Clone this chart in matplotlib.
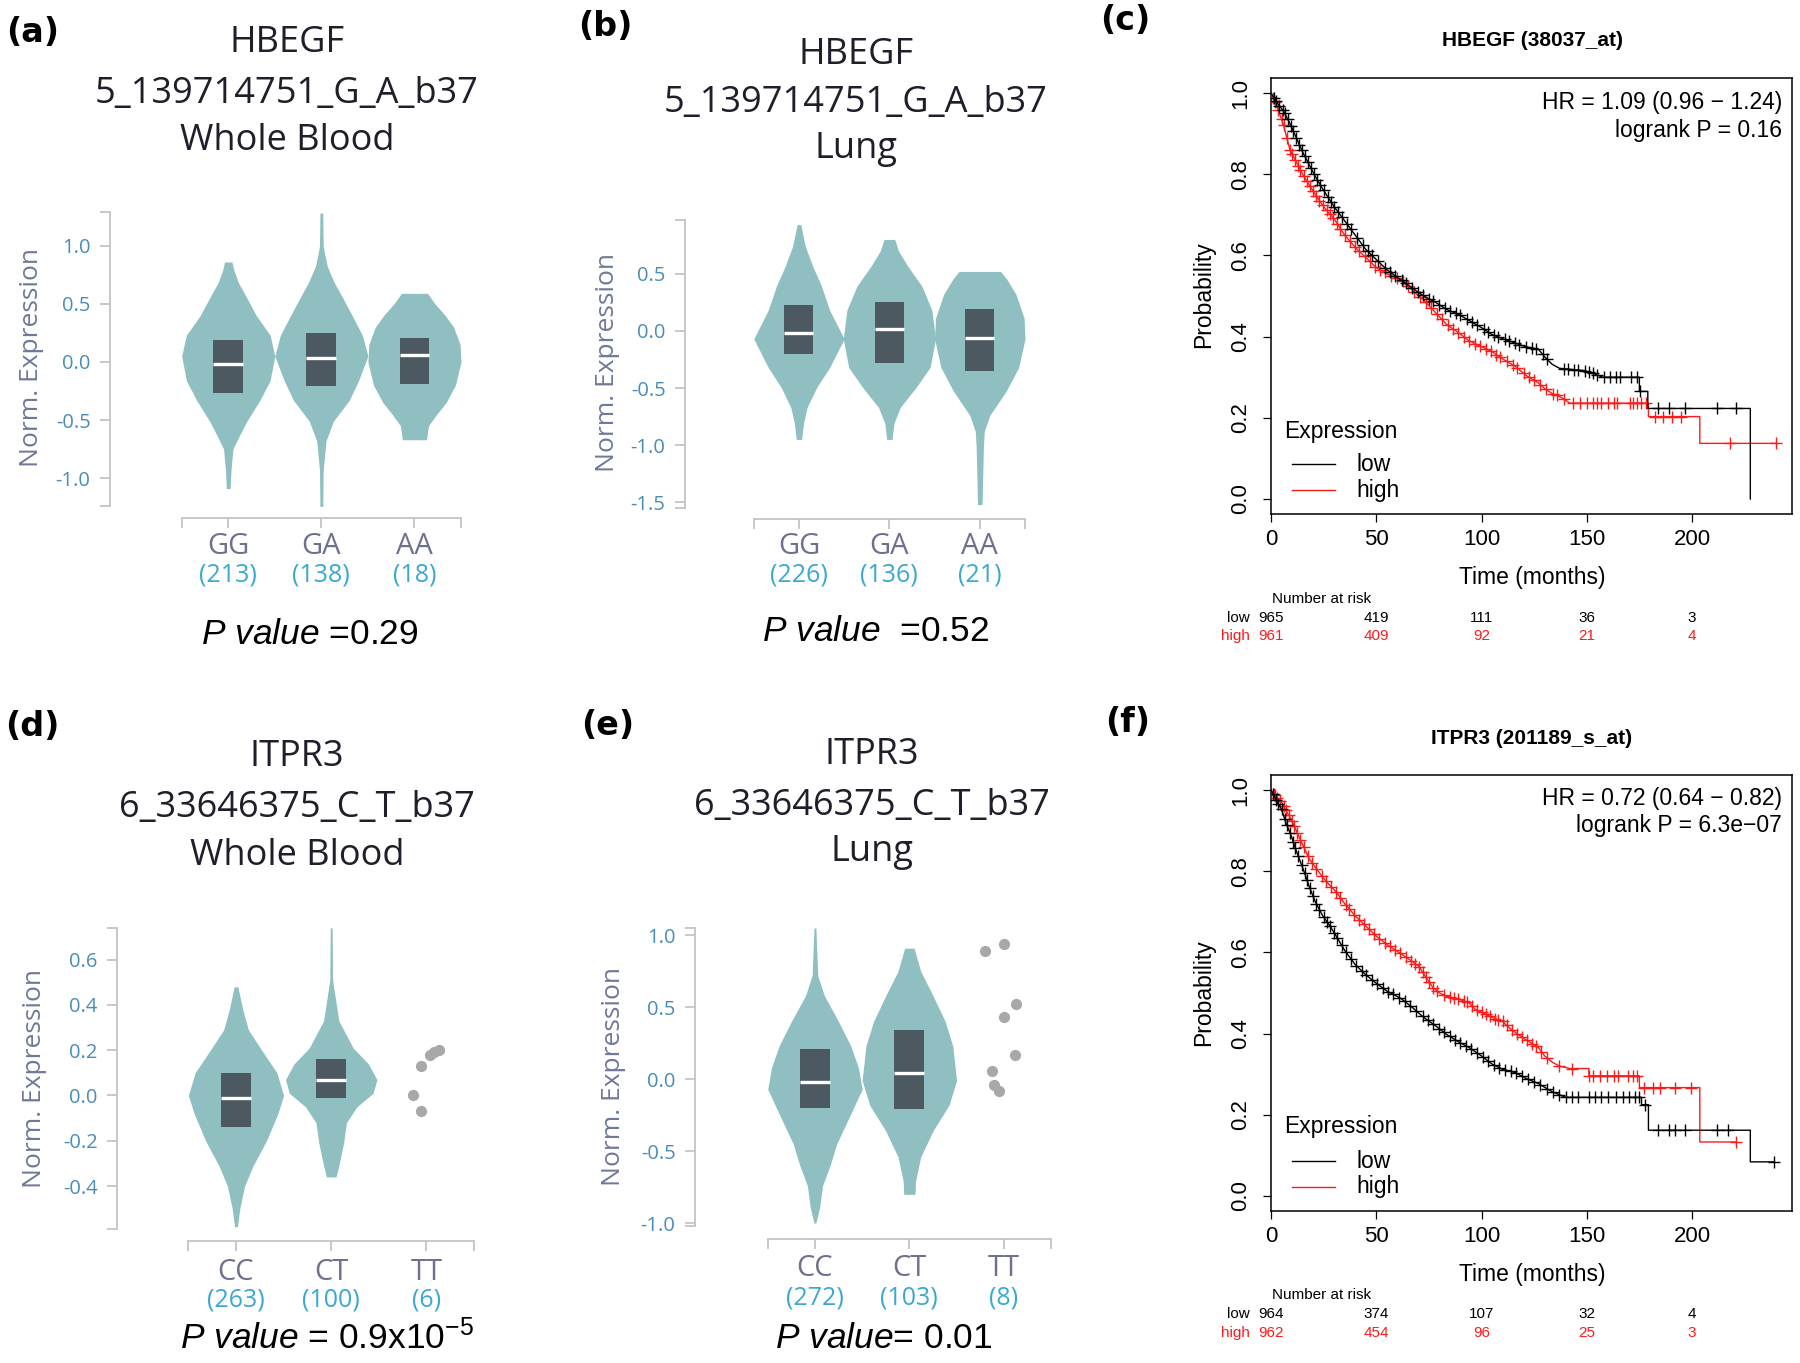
import numpy as np
import matplotlib.pyplot as plt
from matplotlib.patches import Rectangle

W, H = 1800, 1363
plt.rcParams['font.family'] = ['Liberation Sans', 'DejaVu Sans']
plt.rcParams['mathtext.fontset'] = 'custom'
plt.rcParams['mathtext.rm'] = 'Liberation Sans'
plt.rcParams['mathtext.it'] = 'Liberation Sans:italic'
plt.rcParams['axes.unicode_minus'] = False

VIOLIN = '#8fbfc0'
BOX = '#4d5961'
AXGREY = '#c4c4c4'
TICKBLUE = '#4a8db8'
LABELGREY = '#6f7898'
GENOGREY = '#6e7090'
COUNTBLUE = '#3aa8d0'
DOTGREY = '#a8a8a8'
TITLE = '#1f1f2b'
KMRED = '#ff1a1a'
GTEX_FONT = ['Open Sans', 'DejaVu Sans']

# ---------------- data: eQTL violins ----------------
# (a) HBEGF 5_139714751_G_A_b37, Whole Blood
a_geno = ['GG', 'GA', 'AA']
a_counts = ['(213)', '(138)', '(18)']
a_yticks = [-1.0, -0.5, 0.0, 0.5, 1.0]
a_vy = [
    [-1.09, -0.93, -0.75, -0.65, -0.51, -0.33, -0.16, 0.05, 0.23, 0.40, 0.58, 0.68, 0.79, 0.86],
    [-1.25, -0.93, -0.68, -0.51, -0.33, -0.16, 0.05, 0.23, 0.40, 0.58, 0.68, 0.82, 0.93, 1.00, 1.28],
    [-0.67, -0.55, -0.45, -0.35, -0.20, 0.00, 0.15, 0.30, 0.40, 0.50, 0.59],
]
a_vw = [
    [0.02, 0.03, 0.05, 0.11, 0.20, 0.34, 0.45, 0.50, 0.45, 0.30, 0.18, 0.11, 0.06, 0.04],
    [0.015, 0.02, 0.05, 0.13, 0.30, 0.40, 0.50, 0.44, 0.33, 0.21, 0.14, 0.065, 0.035, 0.02, 0.015],
    [0.13, 0.15, 0.24, 0.34, 0.44, 0.50, 0.49, 0.42, 0.33, 0.22, 0.14],
]
a_q1 = [-0.27, -0.21, -0.19]
a_med = [-0.02, 0.03, 0.06]
a_q3 = [0.19, 0.25, 0.21]

# (b) HBEGF 5_139714751_G_A_b37, Lung
b_geno = ['GG', 'GA', 'AA']
b_counts = ['(226)', '(136)', '(21)']
b_yticks = [-1.5, -1.0, -0.5, 0.0, 0.5]
b_vy = [
    [-0.95, -0.81, -0.67, -0.49, -0.32, -0.07, 0.18, 0.39, 0.57, 0.74, 0.93],
    [-0.95, -0.81, -0.67, -0.49, -0.32, -0.07, 0.18, 0.39, 0.57, 0.70, 0.80],
    [-1.52, -1.02, -0.88, -0.74, -0.53, -0.32, -0.07, 0.11, 0.32, 0.45, 0.52],
]
b_vw = [
    [0.03, 0.05, 0.09, 0.20, 0.34, 0.50, 0.34, 0.25, 0.15, 0.07, 0.02],
    [0.03, 0.05, 0.12, 0.30, 0.45, 0.51, 0.47, 0.36, 0.20, 0.10, 0.06],
    [0.025, 0.04, 0.05, 0.11, 0.29, 0.43, 0.50, 0.49, 0.40, 0.30, 0.23],
]
b_q1 = [-0.20, -0.28, -0.35]
b_med = [-0.02, 0.02, -0.06]
b_q3 = [0.23, 0.25, 0.19]

# (d) ITPR3 6_33646375_C_T_b37, Whole Blood
d_geno = ['CC', 'CT', 'TT']
d_counts = ['(263)', '(100)', '(6)']
d_yticks = [-0.4, -0.2, 0.0, 0.2, 0.4, 0.6]
d_vy = [
    [-0.58, -0.50, -0.40, -0.31, -0.20, -0.08, 0.00, 0.10, 0.20, 0.29, 0.38, 0.48],
    [-0.36, -0.31, -0.21, -0.12, -0.05, 0.01, 0.07, 0.14, 0.21, 0.33, 0.44, 0.51, 0.74],
]
d_vw = [
    [0.015, 0.04, 0.09, 0.18, 0.32, 0.44, 0.50, 0.43, 0.27, 0.13, 0.07, 0.02],
    [0.05, 0.08, 0.13, 0.16, 0.27, 0.44, 0.48, 0.39, 0.23, 0.08, 0.04, 0.015, 0.01],
]
d_q1 = [-0.14, -0.01]
d_med = [-0.01, 0.07]
d_q3 = [0.10, 0.16]
d_dot_x = [1.86, 1.94, 1.94, 2.04, 2.08, 2.13]
d_dot_y = [0.00, -0.07, 0.13, 0.18, 0.19, 0.20]

# (e) ITPR3 6_33646375_C_T_b37, Lung
e_geno = ['CC', 'CT', 'TT']
e_counts = ['(272)', '(103)', '(8)']
e_yticks = [-1.0, -0.5, 0.0, 0.5, 1.0]
e_vy = [
    [-1.00, -0.89, -0.74, -0.60, -0.45, -0.24, -0.07, 0.08, 0.23, 0.40, 0.58, 0.72, 1.05],
    [-0.80, -0.71, -0.54, -0.36, -0.18, -0.01, 0.23, 0.40, 0.58, 0.75, 0.91],
]
e_vw = [
    [0.01, 0.05, 0.08, 0.16, 0.23, 0.38, 0.50, 0.46, 0.38, 0.25, 0.10, 0.03, 0.01],
    [0.06, 0.065, 0.12, 0.25, 0.42, 0.50, 0.46, 0.38, 0.25, 0.12, 0.05],
]
e_q1 = [-0.20, -0.21]
e_med = [-0.02, 0.04]
e_q3 = [0.21, 0.34]
e_dot_x = [1.80, 2.00, 2.13, 2.00, 2.12, 1.87, 1.90, 1.95]
e_dot_y = [0.89, 0.94, 0.52, 0.43, 0.17, 0.06, -0.04, -0.08]

# ---------------- data: Kaplan-Meier ----------------
risk_times = [0, 50, 100, 150, 200]

# (c) HBEGF (38037_at)
c_low_t = [0, 3, 6, 9, 12, 15, 18, 21, 25, 30, 35, 40, 45, 50, 55, 61.6, 67, 72.5, 78, 83.4,
           89, 94, 100, 105, 110, 116, 121, 127, 130, 133.5, 137, 149, 153, 157.5, 175, 175,
           179, 179, 227.7, 227.7]
c_low_s = [1.0, 0.975, 0.955, 0.925, 0.89, 0.855, 0.825, 0.795, 0.76, 0.72, 0.685, 0.65, 0.615,
           0.59, 0.565, 0.54, 0.52, 0.50, 0.485, 0.467, 0.455, 0.44, 0.422, 0.405, 0.395, 0.384,
           0.375, 0.369, 0.35, 0.332, 0.322, 0.316, 0.31, 0.30, 0.30, 0.265, 0.265, 0.223, 0.223, 0.0]
c_high_t = [0, 3, 6, 9, 12, 15, 18, 21, 25, 30, 35, 40, 45, 50, 55, 61.6, 67, 72.5, 78, 83.4,
            89, 94, 100, 105, 110, 116, 121, 127, 130, 133.5, 138, 142, 179.3, 179.3, 203.7, 203.7, 240]
c_high_s = [1.0, 0.965, 0.92, 0.86, 0.83, 0.80, 0.775, 0.75, 0.72, 0.69, 0.65, 0.62, 0.595, 0.57,
            0.555, 0.54, 0.515, 0.49, 0.46, 0.43, 0.41, 0.39, 0.375, 0.363, 0.345, 0.327, 0.305,
            0.286, 0.272, 0.26, 0.25, 0.236, 0.236, 0.203, 0.203, 0.137, 0.137]
c_low_cens = [1.5, 2.5, 4, 5.5, 6.5, 8, 9.5, 10.5, 12, 13.5, 14.5, 16, 17.5, 19, 20.5, 22, 23.5, 25,
              27, 28.5, 30, 32, 33.5, 36, 38, 41, 43.5, 46, 48, 51, 54, 56.5, 59, 62, 64, 67, 70, 72,
              75, 77, 80, 82.5, 85, 88, 90, 93, 95.5, 98, 101, 103, 106, 108, 111, 113, 116, 118, 121,
              124, 126, 129, 131, 139, 141, 144, 146, 149, 151, 153, 155, 158, 161, 164, 166, 171,
              174, 175.5, 183.7, 189, 196.7, 212, 220.7]
c_high_cens = [1, 2, 3.5, 5, 6, 7.5, 9, 10, 11.5, 13, 14, 15.5, 17, 18.5, 20, 21.5, 23, 24.5, 26.5,
               28, 29.5, 31.5, 33, 35, 37.5, 40, 42, 44.5, 47, 49.5, 52, 54, 57, 60, 62.5, 65, 68,
               71, 73.5, 76, 79, 81, 84, 86.5, 89, 91.5, 94, 97, 99.5, 102, 104.5, 107, 109, 112,
               115, 117, 120, 122.5, 125, 128, 130.5, 134, 135.7, 139, 143.3, 147, 150, 153, 155,
               157, 160, 163, 164.5, 170.6, 172, 174, 176, 178, 182.6, 186, 190.6, 194.6, 218, 240]
c_hr = ['HR = 1.09 (0.96 \u2212 1.24)', 'logrank P = 0.16']
c_risk_low = ['965', '419', '111', '36', '3']
c_risk_high = ['961', '409', '92', '21', '4']

# (f) ITPR3 (201189_s_at)
f_low_t = [0, 3, 5, 7, 9.4, 12, 13.7, 16, 18, 21, 24.6, 28, 31, 35, 40, 45, 50, 55, 61.6, 67, 72.5,
           78, 83.4, 89, 94, 100, 105, 110, 116, 121, 127, 133.5, 140, 176, 176, 179.3, 179.3,
           227.7, 227.7, 239]
f_low_s = [1.0, 0.97, 0.953, 0.92, 0.89, 0.85, 0.827, 0.795, 0.764, 0.725, 0.69, 0.665, 0.64, 0.605,
           0.57, 0.545, 0.524, 0.505, 0.487, 0.465, 0.44, 0.42, 0.398, 0.38, 0.366, 0.345, 0.325,
           0.312, 0.304, 0.29, 0.277, 0.257, 0.243, 0.243, 0.225, 0.225, 0.162, 0.162, 0.084, 0.084]
f_high_t = [0, 3, 5, 7, 9.4, 12, 13.7, 16, 18, 21, 24.6, 28, 31, 35, 40, 45, 50, 55, 61.6, 67, 70.4,
            74, 77, 80, 83.4, 89, 94, 97, 101, 105, 110, 113, 116, 121, 127, 130, 133.5, 137, 142,
            151, 151, 175, 175, 203.7, 203.7, 221]
f_high_s = [1.0, 0.98, 0.97, 0.95, 0.93, 0.90, 0.88, 0.855, 0.832, 0.81, 0.785, 0.765, 0.749, 0.72,
            0.69, 0.665, 0.64, 0.62, 0.597, 0.578, 0.565, 0.535, 0.513, 0.50, 0.492, 0.485, 0.476,
            0.46, 0.45, 0.44, 0.43, 0.415, 0.403, 0.385, 0.366, 0.345, 0.33, 0.32, 0.314, 0.314,
            0.296, 0.296, 0.267, 0.267, 0.133, 0.133]
f_low_cens = [1, 2.5, 3.5, 5, 6.5, 7.5, 9, 10.5, 11.5, 13, 14.5, 16, 17, 18.5, 20, 21.5, 23, 25,
              26.5, 28, 30, 31.5, 33.5, 35.5, 38, 40.5, 43, 45, 48, 50.5, 53, 55.5, 58, 61, 63.5,
              66, 69, 72, 74.5, 77, 80, 82, 85, 87.5, 90, 92.5, 95, 98, 100.5, 103, 106, 108.5,
              111, 114, 116.5, 119, 122, 125, 128, 131, 134, 137, 140, 143, 146, 151, 154, 157,
              160, 164, 167, 170, 173, 175, 177.5, 183.7, 189, 192, 196.7, 212, 217, 239]
f_high_cens = [1.5, 2, 3, 4.5, 6, 7, 8.5, 10, 11, 12.5, 14, 15.5, 17.5, 19.5, 21.5, 24, 26, 28.5,
               31, 33, 35.5, 37, 39.5, 42, 44, 46.5, 49, 51.5, 54, 56.5, 59, 61.5, 64, 66.5, 68.5,
               70.5, 72, 73.5, 75, 77, 79, 82, 85, 87, 89, 91.5, 93, 95.5, 98, 100, 102, 104, 106.5,
               108, 110, 112, 114.5, 117, 119, 121.5, 124, 126, 128.5, 131, 136.6, 143, 151, 153,
               156.4, 159.5, 163, 165, 169.5, 172, 174, 177, 181.5, 184.6, 192, 199.5, 221]
f_hr = ['HR = 0.72 (0.64 \u2212 0.82)', 'logrank P = 6.3e\u221207']
f_risk_low = ['964', '374', '107', '32', '4']
f_risk_high = ['962', '454', '96', '25', '3']

# ---------------- helpers ----------------
fig = plt.figure(figsize=(W / 100, H / 100), dpi=100)


def px_axes(x0, y0, x1, y1):
    return fig.add_axes([x0 / W, 1 - y1 / H, (x1 - x0) / W, (y1 - y0) / H])


def ftext(x, y, s, **kw):
    fig.text(x / W, 1 - y / H, s, **kw)


def violin_panel(box, xlim, ylim, yticks, vy, vw, q1, med, q3, geno, counts,
                 geno_y, count_y, gap, dots=None):
    x0, y0, x1, y1 = box
    ax = px_axes(x0, y0, x1, y1)
    ax.patch.set_alpha(0)
    for i in range(len(vy)):
        y = np.array(vy[i])
        w = np.array(vw[i])
        ax.fill_betweenx(y, i - w, i + w, color=VIOLIN, lw=0, zorder=2)
        ax.add_patch(Rectangle((i - 0.16, q1[i]), 0.32, q3[i] - q1[i], color=BOX, lw=0, zorder=3))
        ax.plot([i - 0.16, i + 0.16], [med[i], med[i]], color='white', lw=2.4,
                solid_capstyle='butt', zorder=4)
    if dots is not None:
        ax.scatter(dots[0], dots[1], s=65, color=DOTGREY, lw=0, zorder=3)
    ax.set_xlim(*xlim)
    ax.set_ylim(*ylim)
    for s in ['top', 'right']:
        ax.spines[s].set_visible(False)
    for s in ['left', 'bottom']:
        ax.spines[s].set_color(AXGREY)
        ax.spines[s].set_linewidth(1.3)
    ax.spines['bottom'].set_position(('outward', gap * 0.72))
    ax.spines['bottom'].set_bounds(-0.5, 2.5)
    ax.set_yticks(yticks)
    ax.set_yticklabels(['%.1f' % v for v in yticks], fontsize=14.5, color=TICKBLUE,
                       family=GTEX_FONT)
    ax.set_yticks(list(ylim), minor=True)
    ax.set_xticks([0, 1, 2])
    ax.set_xticks([-0.5, 2.5], minor=True)
    ax.tick_params(which='both', direction='out', length=7, width=1.3, color=AXGREY)
    ax.tick_params(axis='y', pad=7)
    ax.tick_params(axis='x', labelbottom=False)
    tr = ax.get_xaxis_transform()
    for i in range(3):
        ax.text(i, (y1 - geno_y) / (y1 - y0), geno[i], transform=tr, ha='center', va='center',
                fontsize=21, color=GENOGREY, family=GTEX_FONT, clip_on=False)
        ax.text(i, (y1 - count_y) / (y1 - y0), counts[i], transform=tr, ha='center', va='center',
                fontsize=18, color=COUNTBLUE, family=GTEX_FONT, clip_on=False)
    return ax


def km_panel(box, low, high, low_cens, high_cens, hr, hr_y, leg_y, risk_low, risk_high, risk_y):
    x0, y0, x1, y1 = box
    ax = px_axes(x0, y0, x1, y1)
    for (t, s), cens, col in [(high, high_cens, KMRED), (low, low_cens, 'black')]:
        ax.plot(t, s, color=col, lw=1.0, zorder=3)
        ct = np.array(cens)
        ax.plot(ct, np.interp(ct, t, s), ls='none', marker='+', ms=9, mew=1.0, color=col, zorder=3)
    ax.set_xlim(0, 247.5)
    ax.set_ylim(-0.037, 1.037)
    for s in ax.spines.values():
        s.set_linewidth(1.1)
    ax.set_xticks([0, 50, 100, 150, 200])
    ax.set_yticks([0.0, 0.2, 0.4, 0.6, 0.8, 1.0])
    ax.set_yticklabels(['0.0', '0.2', '0.4', '0.6', '0.8', '1.0'], rotation=90, va='center', ha='center')
    ax.tick_params(direction='out', length=6, width=0.9, labelsize=16)
    ax.tick_params(axis='y', pad=16)
    ax.tick_params(axis='x', pad=5)
    ftext(1782, hr_y[0], hr[0], ha='right', va='center', fontsize=16.5)
    ftext(1782, hr_y[1], hr[1], ha='right', va='center', fontsize=16.5)
    ftext(1284, leg_y[0], 'Expression', ha='left', va='center', fontsize=16.5)
    for yy, lab, col in [(leg_y[1], 'low', 'black'), (leg_y[2], 'high', KMRED)]:
        fig.add_artist(plt.Line2D([1292 / W, 1335 / W], [1 - yy / H, 1 - yy / H], color=col, lw=1.0))
        ftext(1356, yy, lab, ha='left', va='center', fontsize=16.5)
    ftext(1272, risk_y[0], 'Number at risk', ha='left', va='center', fontsize=11)
    ftext(1250, risk_y[1], 'low', ha='right', va='center', fontsize=11)
    ftext(1250, risk_y[2], 'high', ha='right', va='center', fontsize=11, color=KMRED)
    tr = ax.get_xaxis_transform()
    for i, t in enumerate(risk_times):
        ax.text(t, (y1 - risk_y[1]) / (y1 - y0), risk_low[i], transform=tr, ha='center',
                va='center', fontsize=11, clip_on=False)
        ax.text(t, (y1 - risk_y[2]) / (y1 - y0), risk_high[i], transform=tr, ha='center',
                va='center', fontsize=11, color=KMRED, clip_on=False)
    return ax


# ---------------- panels ----------------
violin_panel((110, 212, 461, 506), (-1.27, 2.5), (-1.24, 1.29), a_yticks, a_vy, a_vw,
             a_q1, a_med, a_q3, a_geno, a_counts, 547, 575, 12)
violin_panel((685, 220, 1025, 508), (-1.26, 2.5), (-1.55, 0.97), b_yticks, b_vy, b_vw,
             b_q1, b_med, b_q3, b_geno, b_counts, 547, 575, 11)
violin_panel((117, 928, 474, 1229), (-1.25, 2.5), (-0.59, 0.74), d_yticks, d_vy, d_vw,
             d_q1, d_med, d_q3, d_geno, d_counts, 1273, 1300, 12, dots=(d_dot_x, d_dot_y))
violin_panel((695, 928, 1051, 1226), (-1.27, 2.5), (-1.02, 1.05), e_yticks, e_vy, e_vw,
             e_q1, e_med, e_q3, e_geno, e_counts, 1269, 1298, 13, dots=(e_dot_x, e_dot_y))

km_panel((1271, 78, 1792, 514), (c_low_t, c_low_s), (c_high_t, c_high_s), c_low_cens, c_high_cens,
         c_hr, (102, 130), (431, 464, 490), c_risk_low, c_risk_high, (599, 618, 636))
km_panel((1271, 775, 1792, 1211), (f_low_t, f_low_s), (f_high_t, f_high_s), f_low_cens, f_high_cens,
         f_hr, (799, 826), (1127, 1161, 1187), f_risk_low, f_risk_high, (1295, 1314, 1333))

# titles of the eQTL panels
for x, ys, lines in [(287, (43, 94, 141), ['HBEGF', '5_139714751_G_A_b37', 'Whole Blood']),
                     (856, (55, 103, 149), ['HBEGF', '5_139714751_G_A_b37', 'Lung']),
                     (297, (757, 808, 856), ['ITPR3', '6_33646375_C_T_b37', 'Whole Blood']),
                     (872, (755, 806, 852), ['ITPR3', '6_33646375_C_T_b37', 'Lung'])]:
    for y, s in zip(ys, lines):
        ftext(x, y, s, ha='center', va='center', fontsize=26, color=TITLE, family=GTEX_FONT)

# y labels of the eQTL panels
for x, y in [(32, 358), (608, 363), (35, 1078), (614, 1076)]:
    ftext(x, y, 'Norm. Expression', rotation=90, ha='center', va='center', fontsize=19,
          color=LABELGREY, family=GTEX_FONT)

# P values
ftext(310, 635, r'$\mathit{P\ value}$ =0.29', ha='center', va='center', fontsize=25.5)
ftext(876, 631, r'$\mathit{P\ value}$  =0.52', ha='center', va='center', fontsize=25.5)
ftext(327, 1338, r'$\mathit{P\ value}$ = 0.9x10$^{-5}$', ha='center', va='center', fontsize=25.5)
ftext(884, 1338, r'$\mathit{P\ value}$= 0.01', ha='center', va='center', fontsize=25.5)

# KM titles and axis labels
ftext(1532, 41, 'HBEGF (38037_at)', ha='center', va='center', fontsize=15, weight='bold')
ftext(1532, 738, 'ITPR3 (201189_s_at)', ha='center', va='center', fontsize=15, weight='bold')
for y in (577, 1274):
    ftext(1532, y, 'Time (months)', ha='center', va='center', fontsize=16.5)
for y in (295, 993):
    ftext(1204, y, 'Probability', rotation=90, ha='center', va='center', fontsize=16.5)

# panel letters
for x, y, s in [(33, 32, '(a)'), (605, 27, '(b)'), (1125, 20, '(c)'),
                (32, 727, '(d)'), (608, 726, '(e)'), (1128, 723, '(f)')]:
    ftext(x, y, s, ha='center', va='center', fontsize=24, weight='bold',
          family=['DejaVu Sans'])

fig.savefig('out.png', dpi=100)
